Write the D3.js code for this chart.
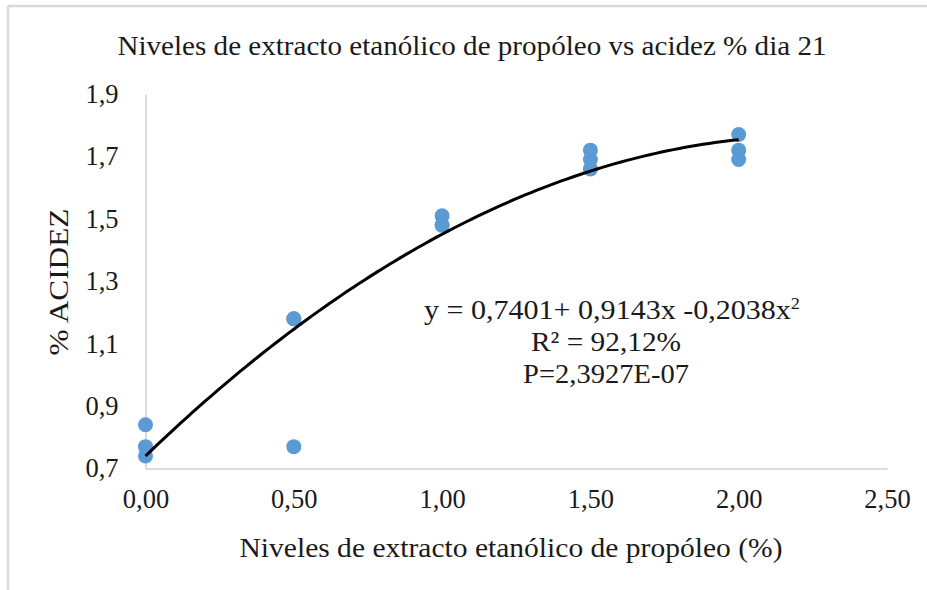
<!DOCTYPE html>
<html>
<head>
<meta charset="utf-8">
<script src="https://cdn.jsdelivr.net/npm/d3@7"></script>
<style>
  html, body { margin: 0; padding: 0; background: #fff; }
  svg { display: block; }
</style>
</head>
<body>
<svg id="chart" width="927" height="590"></svg>
<script>
// Acidity (%) on day 21 for each level of ethanolic propolis extract
const niveles = [0, 0, 0, 0.5, 0.5, 0.5, 1, 1, 1, 1.5, 1.5, 1.5, 2, 2, 2];
const acidez  = [0.84, 0.77, 0.74, 1.18, 1.18, 0.77, 1.51, 1.48, 1.48, 1.72, 1.69, 1.66, 1.77, 1.72, 1.69];

// Quadratic fit reported with the chart
const coefs = [0.7401, 0.9143, -0.2038];
const ecuacion = ["y = 0,7401+ 0,9143x -0,2038x", "R² = 92,12%", "P=2,3927E-07"];

const xTicks = [0, 0.5, 1, 1.5, 2, 2.5];
const yTicks = [0.7, 0.9, 1.1, 1.3, 1.5, 1.7, 1.9];

const fmtComma = (d, n) => d.toFixed(n).replace(".", ",");
const ink = "#1a1a1a";
const serif = "'Liberation Serif', 'Times New Roman', serif";

const svg = d3.select("#chart");

// style a text selection in the chart's serif face
function face(sel, size) {
  sel.style("font-family", serif).style("font-size", size + "px").attr("fill", ink);
}
// fit a text element to a given width
function fit(sel, w) {
  sel.attr("textLength", w).attr("lengthAdjust", "spacingAndGlyphs");
}

// outer frame
svg.append("line").attr("x1", 8).attr("x2", 927).attr("y1", 6).attr("y2", 6)
  .attr("stroke", "#d9d9d9").attr("stroke-width", 2.5);
svg.append("line").attr("x1", 8).attr("x2", 8).attr("y1", 6).attr("y2", 590)
  .attr("stroke", "#d9d9d9").attr("stroke-width", 2.5);

const x = d3.scaleLinear().domain([0, 2.5]).range([145.5, 887]);
const y = d3.scaleLinear().domain([0.7, 1.9]).range([468.5, 94]);

// title
svg.append("text").attr("x", 472).attr("y", 55).attr("text-anchor", "middle")
  .call(face, 28)
  .text("Niveles de extracto etanólico de propóleo vs acidez % dia 21")
  .call(fit, 709);

// axes
const xAxis = d3.axisBottom(x).tickValues(xTicks).tickSize(0).tickPadding(21)
  .tickFormat(d => fmtComma(d, 2));
const gx = svg.append("g").attr("transform", `translate(0,${y(0.7)})`).call(xAxis);
gx.select(".domain").attr("stroke", "#d0d0d0").attr("stroke-width", 1.5);
gx.selectAll(".tick text").attr("dy", "0.71em").call(face, 26.5);

const yAxis = d3.axisLeft(y).tickValues(yTicks).tickSize(0).tickPadding(27)
  .tickFormat(d => fmtComma(d, 1));
const gy = svg.append("g").attr("transform", `translate(${x(0)},0)`).call(yAxis);
gy.select(".domain").attr("stroke", "#d0d0d0").attr("stroke-width", 1.5);
gy.selectAll(".tick text").call(face, 26.5);

// axis titles
svg.append("text").attr("x", 511).attr("y", 557).attr("text-anchor", "middle")
  .call(face, 28)
  .text("Niveles de extracto etanólico de propóleo (%)")
  .call(fit, 543);
svg.append("text").attr("transform", "translate(68,282) rotate(-90)")
  .attr("text-anchor", "middle").call(face, 28)
  .text("% ACIDEZ")
  .call(fit, 147);

// data points
svg.append("g").selectAll("circle").data(niveles).join("circle")
  .attr("cx", (d) => x(d)).attr("cy", (d, i) => y(acidez[i]))
  .attr("r", 7.5).attr("fill", "#5b9bd5");

// fitted curve
const curvaX = d3.range(0, 2.0001, 0.02);
const line = d3.line().x(d => x(d)).y(d => y(coefs[0] + coefs[1] * d + coefs[2] * d * d));
svg.append("path").datum(curvaX).attr("d", line)
  .attr("fill", "none").attr("stroke", "#000").attr("stroke-width", 3);

// equation annotation
const eq = svg.append("text").attr("x", 424).attr("y", 319).call(face, 28);
eq.append("tspan").text(ecuacion[0]);
eq.append("tspan").attr("dy", -10).style("font-size", "17px").text("2");
eq.call(fit, 376);
svg.append("text").attr("x", 606).attr("y", 351).attr("text-anchor", "middle")
  .call(face, 28).text(ecuacion[1]).call(fit, 150);
svg.append("text").attr("x", 606).attr("y", 383).attr("text-anchor", "middle")
  .call(face, 28).text(ecuacion[2]).call(fit, 166);
</script>
</body>
</html>
